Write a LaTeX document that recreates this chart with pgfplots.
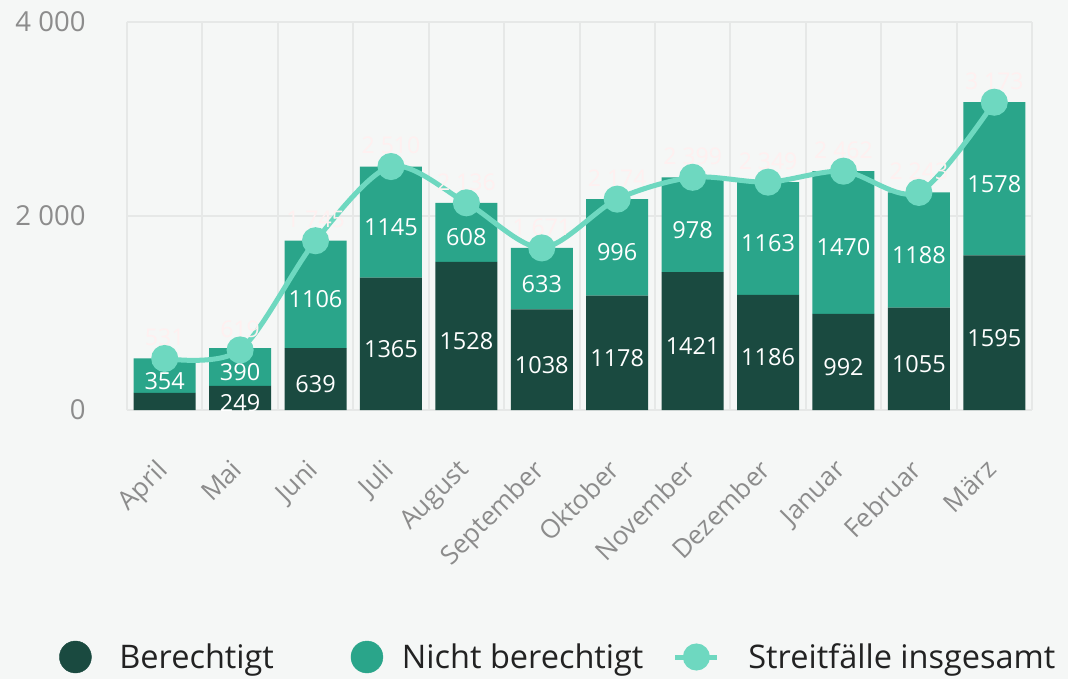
\documentclass[border=0pt]{standalone}
\usepackage{pgfplots}
\pgfplotsset{compat=1.18}
\usepackage{pgfplotstable}
\usepackage{fontspec}
\setmainfont{Open Sans}
\definecolor{bg}{RGB}{245,247,246}
\definecolor{cdark}{RGB}{26,74,64}
\definecolor{cmid}{RGB}{42,165,138}
\definecolor{cline}{RGB}{110,216,192}
\definecolor{gridc}{RGB}{230,232,231}
\definecolor{tickc}{RGB}{140,140,140}
\definecolor{faint}{RGB}{255,240,240}
\definecolor{legtext}{RGB}{34,34,34}

\pgfplotstableread{
x ber nicht total bl
0 177 354 531 {}
1 249 390 619 249
2 639 1106 1745 639
3 1365 1145 2510 1365
4 1528 608 2136 1528
5 1038 633 1671 1038
6 1178 996 2174 1178
7 1421 978 2399 1421
8 1186 1163 2349 1186
9 992 1470 2462 992
10 1055 1188 2243 1055
11 1595 1578 3173 1595
}\data

\pgfplotsset{
  base/.style={
    at={(0,0)}, anchor=south west, scale only axis,
    width=905bp, height=388bp,
    xmin=-0.5, xmax=11.5, ymin=0, ymax=4000,
    /pgf/number format/assume math mode=true,
    /pgf/number format/1000 sep={\ },
  }
}

\begin{document}
\begin{tikzpicture}
\path[use as bounding box, fill=bg] (-127bp,-269bp) rectangle (941bp,410bp);
\begin{axis}[base,
  ybar stacked, bar width=62bp,
  axis line style={draw=none},
  major tick length=0, minor tick length=0,
  xtick={0,...,11},
  xticklabels={April,Mai,Juni,Juli,August,September,Oktober,November,Dezember,Januar,Februar,März},
  minor xtick={-0.5,0.5,...,11.5},
  xminorgrids, ymajorgrids,
  major grid style={gridc, line width=2bp},
  minor grid style={gridc, line width=2bp},
  ytick={0,2000,4000},
  yticklabel style={text=tickc, font=\fontsize{27.5bp}{32bp}\selectfont, xshift=-38bp},
  xticklabel style={text=tickc, font=\fontsize{26bp}{30bp}\selectfont, xshift=-10bp, yshift=-43bp, rotate=45, anchor=north east},
  nodes near coords,
  point meta=explicit symbolic,
  every node near coord/.append style={white, font=\fontsize{23.5bp}{27bp}\selectfont, anchor=center, yshift=-5bp},
]
\addplot[fill=cdark, draw=none] table[x=x, y=ber, meta=bl]{\data};
\addplot[fill=cmid, draw=none] table[x=x, y=nicht, meta=nicht]{\data};
\end{axis}

\begin{axis}[base, hide axis,
  legend columns=3,
  legend style={at={(-0.0751,-0.6366)}, anchor=west, draw=none, fill=none, inner sep=0pt,
    nodes={inner sep=0pt}, column sep=0pt,
    font=\fontsize{32.5bp}{38bp}\selectfont, text=legtext},
]
\addlegendimage{legend image code/.code={\fill[cdark] (0bp,0bp) circle (16bp); \path[draw=none, fill=none] (-16bp,0bp) -- (44bp,0bp);}}
\addlegendentry{Berechtigt}
\addlegendimage{legend image code/.code={\fill[cmid] (0bp,0bp) circle (16bp); \path[draw=none, fill=none] (-93bp,0bp) -- (35bp,0bp);}}
\addlegendentry{Nicht berechtigt}
\addplot[draw=none, mark=none, forget plot, point meta=explicit,
  nodes near coords,
  every node near coord/.append style={faint, font=\fontsize{23bp}{27bp}\selectfont, anchor=center, yshift=21bp}]
  table[x=x, y=total, meta=total]{\data};
\addplot[cline, line width=5bp, smooth, mark=*, mark size=11bp, mark options={fill=cline, draw=none},
  legend image code/.code={\draw[cline, line width=5bp] (-21bp,0bp) -- (21bp,0bp); \fill[cline] (0bp,0bp) circle (11bp); \path[draw=none, fill=none] (-53bp,0bp) -- (52bp,0bp);}]
  table[x=x, y=total]{\data};
\addlegendentry{Streitfälle insgesamt}
\end{axis}
\end{tikzpicture}
\end{document}
